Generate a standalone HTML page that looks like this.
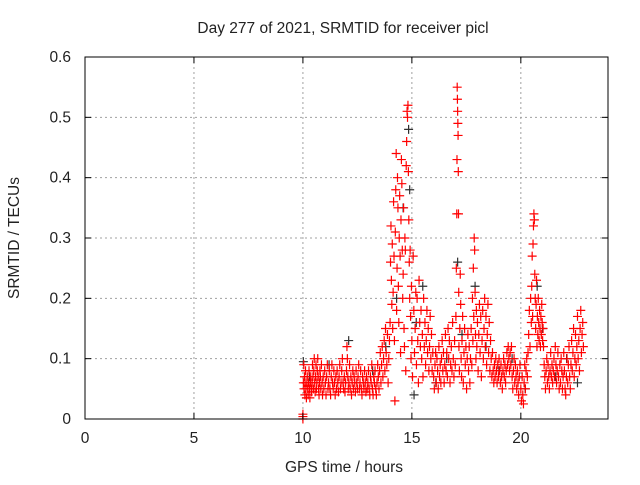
<!DOCTYPE html>
<html><head><meta charset="utf-8"><style>
body{margin:0;background:#fff;}
svg text{font-family:"Liberation Sans",sans-serif;font-size:15.5px;fill:#222;}
</style></head><body>
<svg id="chart" width="640" height="480">
<text x="343" y="33" text-anchor="middle">Day 277 of 2021, SRMTID for receiver picl</text>
<g id="grid"></g>
<g id="pts"></g>
<rect x="85" y="57" width="523" height="362" fill="none" stroke="#000"/>
<g id="axes"></g>
<text x="344" y="472" text-anchor="middle">GPS time / hours</text>
<text transform="translate(19,238) rotate(-90)" text-anchor="middle">SRMTID / TECUs</text>
</svg>
<script>
const xTicks=[0,5,10,15,20];
const yTicks=[0,0.1,0.2,0.3,0.4,0.5,0.6];
const yTickLabels=["0","0.1","0.2","0.3","0.4","0.5","0.6"];
const blackPoints=[[10.02,0.095],[10.3,0.07],[11.2,0.09],[12.1,0.13],[13.2,0.08],[13.8,0.12],[14.3,0.2],[14.6,0.35],[14.85,0.48],[14.9,0.38],[15.2,0.16],[15.5,0.22],[16.1,0.06],[16.6,0.1],[17.1,0.26],[17.3,0.14],[17.9,0.22],[18.4,0.12],[19.0,0.08],[19.6,0.1],[20.2,0.05],[20.75,0.22],[21.0,0.15],[21.6,0.07],[22.1,0.1],[22.6,0.06],[15.1,0.04]];
const redPoints=[[10,0],[10,0.004],[10,0.008],[10.02,0.06],[10.04,0.09],[10.05,0.05],[10.07,0.07],[10.09,0.04],[10.1,0.06],[10.12,0.08],[10.14,0.05],[10.16,0.035],[10.18,0.06],[10.2,0.07],[10.22,0.05],[10.24,0.04],[10.26,0.06],[10.28,0.08],[10.3,0.05],[10.32,0.035],[10.34,0.06],[10.36,0.07],[10.38,0.05],[10.4,0.045],[10.42,0.06],[10.44,0.09],[10.46,0.07],[10.48,0.05],[10.5,0.08],[10.52,0.1],[10.54,0.06],[10.56,0.045],[10.58,0.07],[10.6,0.09],[10.62,0.05],[10.64,0.06],[10.66,0.08],[10.68,0.1],[10.7,0.07],[10.72,0.05],[10.74,0.04],[10.76,0.06],[10.78,0.08],[10.8,0.07],[10.82,0.05],[10.85,0.09],[10.88,0.06],[10.9,0.04],[10.93,0.07],[10.96,0.05],
[11,0.08],[11.03,0.06],[11.06,0.04],[11.09,0.07],[11.12,0.09],[11.15,0.05],[11.18,0.06],[11.21,0.08],[11.24,0.05],[11.27,0.04],[11.3,0.07],[11.33,0.09],[11.36,0.06],[11.39,0.05],[11.42,0.08],[11.45,0.06],[11.48,0.04],[11.51,0.07],[11.54,0.05],[11.57,0.08],[11.6,0.06],[11.63,0.045],[11.66,0.07],[11.69,0.09],[11.72,0.05],[11.75,0.06],[11.78,0.08],[11.81,0.1],[11.84,0.06],[11.87,0.05],[11.9,0.07],[11.93,0.045],[11.96,0.06],[12,0.08],[12.02,0.12],[12.04,0.1],[12.06,0.07],[12.08,0.05],[12.11,0.06],[12.14,0.09],[12.17,0.05],[12.2,0.07],[12.23,0.04],[12.26,0.06],[12.29,0.08],[12.32,0.05],[12.35,0.07],[12.38,0.06],[12.41,0.045],[12.44,0.08],[12.47,0.06],[12.5,0.05],[12.53,0.07],[12.56,0.09],[12.59,0.05],[12.62,0.06],[12.65,0.08],[12.68,0.05],[12.71,0.04],[12.74,0.07],[12.77,0.06],[12.8,0.05],[12.83,0.08],[12.86,0.06],[12.89,0.045],[12.92,0.07],[12.95,0.05],[12.98,0.06],
[13.01,0.08],[13.04,0.05],[13.07,0.04],[13.1,0.07],[13.13,0.06],[13.16,0.09],[13.19,0.05],[13.22,0.04],[13.25,0.07],[13.28,0.06],[13.31,0.08],[13.34,0.05],[13.37,0.04],[13.4,0.06],[13.43,0.09],[13.46,0.07],[13.49,0.05],[13.52,0.08],[13.55,0.11],[13.58,0.06],[13.61,0.09],[13.64,0.12],[13.67,0.07],[13.7,0.1],[13.73,0.13],[13.76,0.08],[13.79,0.15],[13.82,0.11],[13.85,0.09],[13.88,0.14],[13.91,0.06],[13.94,0.1],[13.97,0.13],[14.0,0.16],[14.02,0.26],[14.04,0.32],[14.06,0.23],[14.08,0.19],[14.1,0.29],[14.12,0.15],[14.14,0.21],[14.16,0.36],[14.18,0.27],[14.2,0.13],[14.22,0.03],[14.24,0.31],[14.26,0.38],[14.28,0.44],[14.3,0.18],[14.32,0.25],[14.34,0.4],[14.36,0.35],[14.38,0.22],[14.4,0.16],[14.42,0.3],[14.44,0.37],[14.46,0.27],[14.48,0.11],[14.5,0.33],[14.52,0.43],[14.54,0.39],[14.56,0.28],[14.58,0.2],[14.6,0.24],[14.62,0.35],[14.64,0.15],[14.66,0.12],[14.68,0.3],[14.7,0.28],[14.72,0.08],[14.74,0.42],[14.76,0.46],[14.78,0.51],[14.8,0.5],[14.82,0.52],[14.84,0.41],[14.86,0.33],[14.88,0.26],[14.9,0.2],[14.92,0.28],[14.94,0.17],[14.96,0.1],[14.98,0.22],
[15.0,0.13],[15.03,0.07],[15.06,0.27],[15.09,0.18],[15.12,0.11],[15.15,0.15],[15.18,0.21],[15.21,0.09],[15.24,0.2],[15.27,0.13],[15.3,0.06],[15.33,0.23],[15.36,0.16],[15.39,0.12],[15.42,0.18],[15.45,0.1],[15.48,0.14],[15.51,0.07],[15.54,0.2],[15.57,0.12],[15.6,0.16],[15.63,0.09],[15.66,0.13],[15.69,0.18],[15.72,0.11],[15.75,0.15],[15.78,0.08],[15.81,0.12],[15.84,0.17],[15.87,0.1],[15.9,0.14],[15.93,0.08],[15.96,0.11],
[16.0,0.07],[16.03,0.05],[16.06,0.09],[16.09,0.11],[16.12,0.06],[16.15,0.1],[16.18,0.08],[16.21,0.05],[16.24,0.12],[16.27,0.07],[16.3,0.09],[16.33,0.06],[16.36,0.1],[16.39,0.13],[16.42,0.08],[16.45,0.11],[16.48,0.06],[16.51,0.09],[16.54,0.14],[16.57,0.08],[16.6,0.11],[16.63,0.07],[16.66,0.15],[16.69,0.1],[16.72,0.13],[16.75,0.06],[16.78,0.09],[16.81,0.12],[16.84,0.08],[16.87,0.16],[16.9,0.1],[16.93,0.07],[16.96,0.13],[16.99,0.09],
[17.02,0.17],[17.04,0.25],[17.06,0.34],[17.07,0.43],[17.08,0.55],[17.09,0.53],[17.1,0.51],[17.11,0.49],[17.12,0.47],[17.13,0.41],[17.14,0.34],[17.15,0.21],[17.16,0.12],[17.18,0.08],[17.2,0.15],[17.22,0.24],[17.24,0.19],[17.26,0.1],[17.28,0.07],[17.3,0.13],[17.33,0.17],[17.36,0.06],[17.39,0.11],[17.42,0.15],[17.45,0.09],[17.48,0.12],[17.51,0.05],[17.54,0.1],[17.57,0.14],[17.6,0.08],[17.63,0.12],[17.66,0.06],[17.69,0.1],[17.72,0.15],[17.75,0.09],[17.78,0.2],[17.8,0.13],[17.82,0.25],[17.84,0.17],[17.86,0.3],[17.88,0.28],[17.9,0.21],[17.92,0.14],[17.94,0.1],[17.96,0.18],[17.98,0.12],
[18.01,0.16],[18.04,0.08],[18.07,0.14],[18.1,0.19],[18.13,0.11],[18.16,0.17],[18.19,0.07],[18.22,0.13],[18.25,0.18],[18.28,0.1],[18.31,0.15],[18.34,0.2],[18.37,0.12],[18.4,0.17],[18.43,0.09],[18.46,0.14],[18.49,0.19],[18.52,0.11],[18.55,0.16],[18.58,0.08],[18.61,0.13],[18.64,0.1],[18.67,0.07],[18.7,0.11],[18.73,0.08],[18.76,0.06],[18.79,0.09],[18.82,0.07],[18.85,0.1],[18.88,0.08],[18.91,0.06],[18.94,0.09],[18.97,0.07],[19.0,0.1],[19.03,0.08],[19.06,0.06],[19.09,0.09],[19.12,0.07],[19.15,0.05],[19.18,0.08],[19.21,0.1],[19.24,0.07],[19.27,0.09],[19.3,0.06],[19.33,0.08],[19.36,0.11],[19.39,0.09],[19.42,0.12],[19.45,0.1],[19.48,0.08],[19.51,0.11],[19.54,0.09],[19.57,0.12],[19.6,0.07],[19.63,0.05],[19.66,0.08],[19.69,0.1],[19.72,0.06],[19.75,0.09],[19.78,0.07],[19.81,0.05],[19.84,0.08],[19.87,0.06],[19.9,0.04],[19.93,0.07],[19.96,0.09],
[20.0,0.05],[20.03,0.03],[20.06,0.07],[20.09,0.04],[20.12,0.025],[20.15,0.06],[20.18,0.09],[20.21,0.05],[20.24,0.08],[20.27,0.1],[20.3,0.07],[20.33,0.11],[20.36,0.14],[20.39,0.18],[20.42,0.12],[20.45,0.2],[20.48,0.16],[20.5,0.22],[20.52,0.27],[20.54,0.17],[20.56,0.29],[20.58,0.32],[20.6,0.34],[20.62,0.33],[20.64,0.24],[20.66,0.2],[20.68,0.15],[20.7,0.19],[20.72,0.23],[20.74,0.12],[20.76,0.17],[20.78,0.14],[20.8,0.2],[20.82,0.16],[20.84,0.13],[20.86,0.18],[20.88,0.15],[20.9,0.12],[20.92,0.17],[20.94,0.14],[20.96,0.19],[20.98,0.16],[21.0,0.13],[21.02,0.15],[21.04,0.12],[21.07,0.09],[21.1,0.07],[21.13,0.05],[21.16,0.08],[21.19,0.1],[21.22,0.06],[21.25,0.09],[21.28,0.07],[21.31,0.05],[21.34,0.08],[21.37,0.11],[21.4,0.07],[21.43,0.09],[21.46,0.06],[21.49,0.08],[21.52,0.1],[21.55,0.07],[21.58,0.12],[21.61,0.09],[21.64,0.06],[21.67,0.08],[21.7,0.11],[21.73,0.07],[21.76,0.05],[21.79,0.09],[21.82,0.06],[21.85,0.1],[21.88,0.08],[21.91,0.05],[21.94,0.07],[21.97,0.11],
[22.0,0.08],[22.03,0.05],[22.06,0.04],[22.09,0.07],[22.12,0.1],[22.15,0.06],[22.18,0.09],[22.21,0.12],[22.24,0.07],[22.27,0.05],[22.3,0.09],[22.33,0.13],[22.36,0.08],[22.39,0.11],[22.42,0.15],[22.45,0.07],[22.48,0.1],[22.51,0.14],[22.54,0.09],[22.57,0.12],[22.6,0.17],[22.63,0.1],[22.66,0.13],[22.69,0.08],[22.72,0.15],[22.75,0.18],[22.78,0.11],[22.81,0.14],[22.84,0.16],[22.87,0.12]];

const X0=85,X1=608,Y0=419,Y1=57,XMAX=24,YMAX=0.6;
function xs(t){return X0+(X1-X0)*t/XMAX;}
function ys(v){return Y0-(Y0-Y1)*v/YMAX;}
const NS='http://www.w3.org/2000/svg';
const grid=document.getElementById('grid'),axes=document.getElementById('axes'),pts=document.getElementById('pts');
function mk(tag,attrs,parent){const e=document.createElementNS(NS,tag);for(const k in attrs)e.setAttribute(k,attrs[k]);parent.appendChild(e);return e;}
xTicks.forEach(function(t){
  const x=xs(t);
  if(t>0){const g=mk('line',{x1:x,y1:Y0,x2:x,y2:Y1,stroke:'#a0a0a0','stroke-dasharray':'2,3'},grid);
  
  }
  mk('line',{x1:x,y1:Y0,x2:x,y2:Y0-6,stroke:'#000'},axes);
  mk('line',{x1:x,y1:Y1,x2:x,y2:Y1+6,stroke:'#000'},axes);
  const tx=mk('text',{x:x,y:Y0+24,'text-anchor':'middle'},axes);
  tx.textContent=String(t);
  
  
});
yTicks.forEach(function(v,i){
  const y=ys(v);
  if(v>0&&v<YMAX){const g=mk('line',{x1:X0,y1:y,x2:X1,y2:y,stroke:'#a0a0a0','stroke-dasharray':'2,3'},grid);
  
  }
  mk('line',{x1:X0,y1:y,x2:X0+6,y2:y,stroke:'#000'},axes);
  mk('line',{x1:X1,y1:y,x2:X1-6,y2:y,stroke:'#000'},axes);
  const tx=mk('text',{x:X0-14,y:y+5,'text-anchor':'end'},axes);
  tx.textContent=yTickLabels[i];
  
  
});
function cross(p,color,name){
  const x=xs(p[0]),y=ys(p[1]);
  const e=mk('path',{d:'M'+(x-4.5)+' '+y+'H'+(x+4.5)+'M'+x+' '+(y-4.5)+'V'+(y+4.5),stroke:color,'stroke-width':1.2,fill:'none'},pts);
  
  
}
blackPoints.forEach(function(p){cross(p,'#303030','black-point');});
redPoints.forEach(function(p){cross(p,'#ff0000','red-point');});
</script>
</body></html>
